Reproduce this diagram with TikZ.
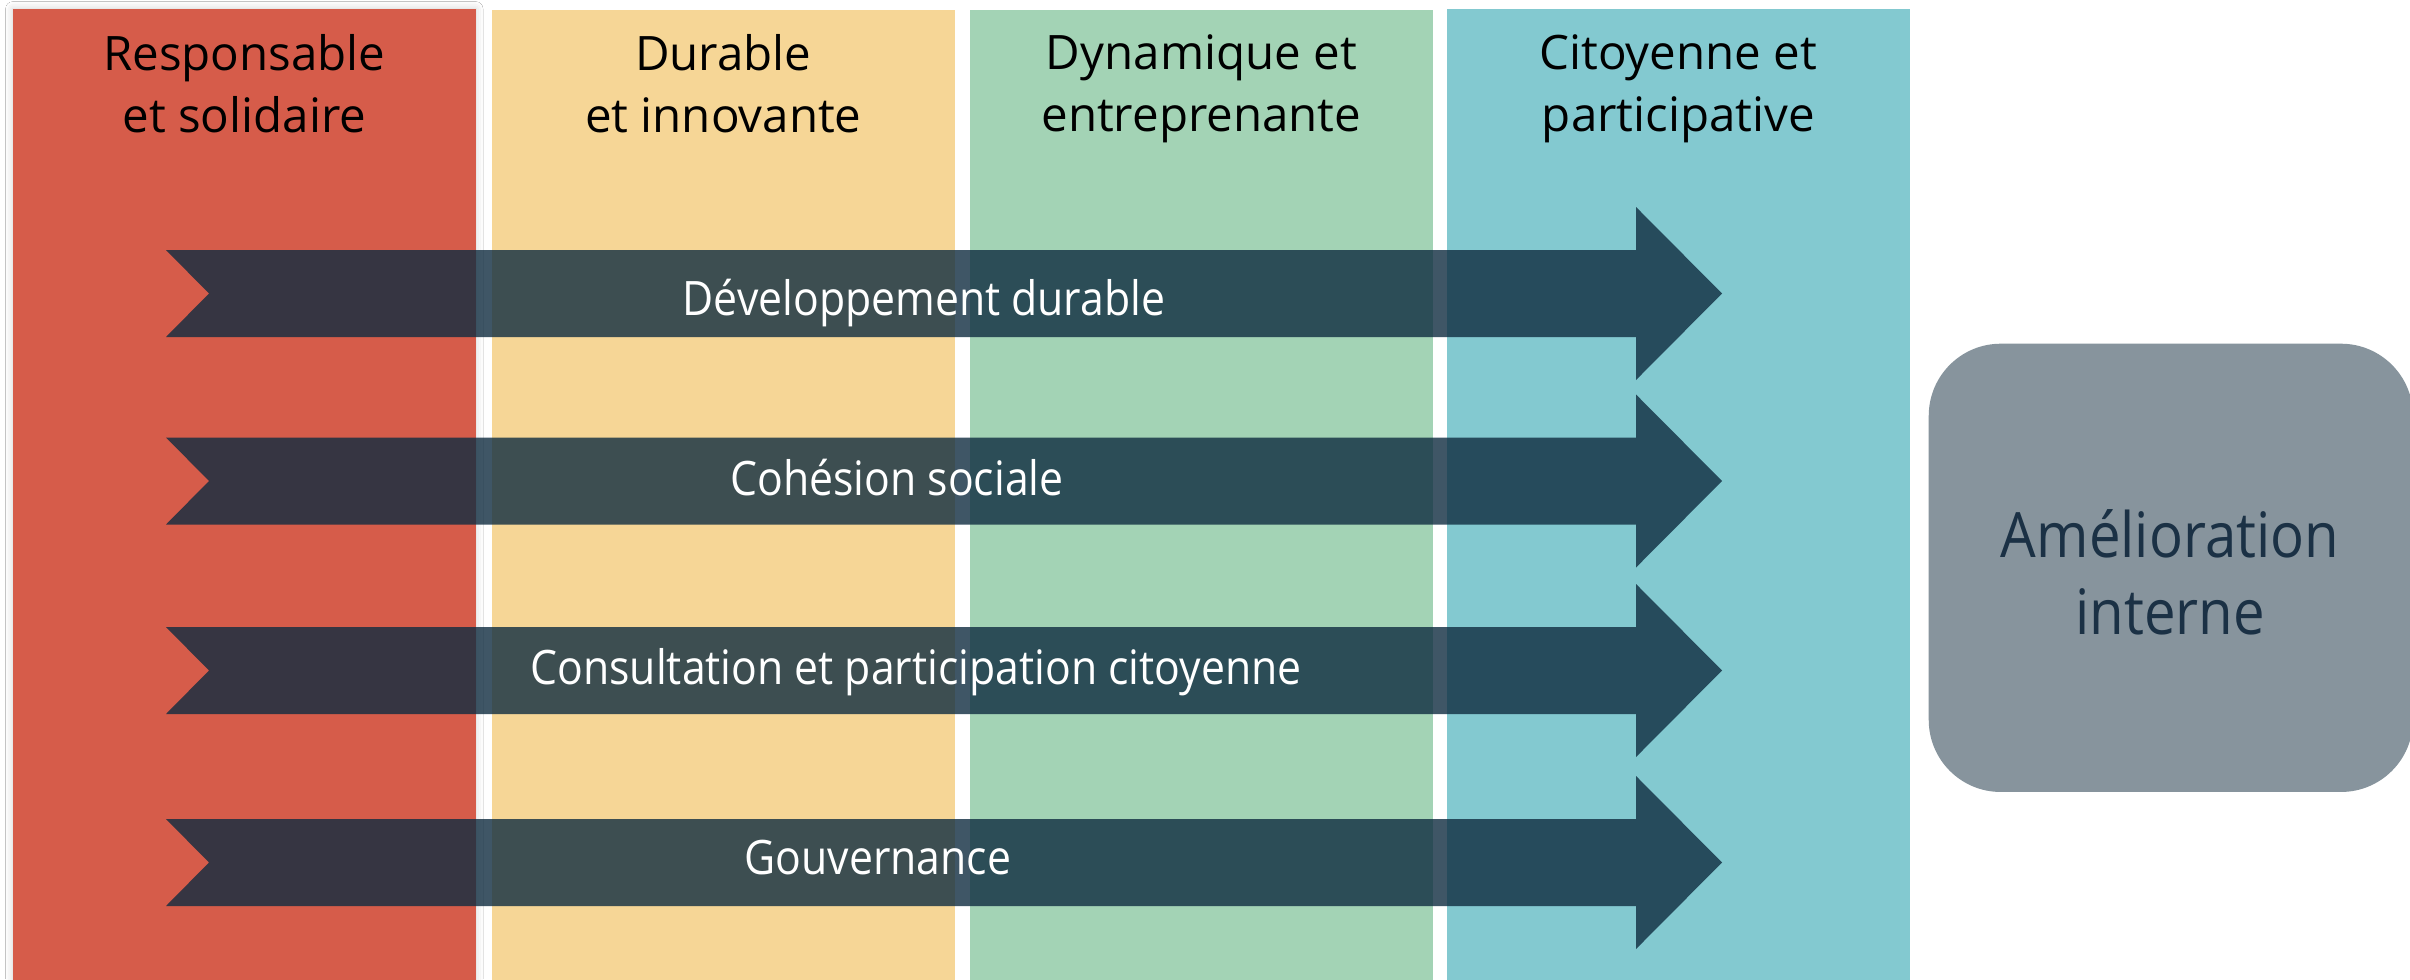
\documentclass[tikz,border=0pt]{standalone}
\usepackage{fontspec}
\setmainfont{Open Sans}
\newfontfamily\narrowfont{Open Sans}[FakeStretch=0.9]
\usetikzlibrary{shadows.blur}
\definecolor{colred}{HTML}{D65C4A}
\definecolor{colyellow}{HTML}{F6D696}
\definecolor{colgreen}{HTML}{A3D3B5}
\definecolor{colteal}{HTML}{83C9D0}
\definecolor{arrowc}{RGB}{15,44,64}
\definecolor{boxc}{HTML}{87949D}
\definecolor{boxtext}{HTML}{1B3145}
\begin{document}
\begin{tikzpicture}[x=0.01cm,y=-0.01cm,
  col/.style={draw=none, anchor=north west, inner sep=0pt, minimum width=4.63cm, minimum height=9.75cm},
  head/.style={anchor=north, align=center, inner sep=0pt, font=\fontsize{13.5}{17.6}\selectfont, text=black},
  band/.style={fill=arrowc, fill opacity=0.8, draw=none},
  bandtext/.style={text=white, inner sep=0pt, anchor=base, font=\narrowfont\fontsize{13.5}{16}\selectfont},
  goal/.style={fill=boxc, draw=none, rounded corners=0.72cm, anchor=north west, minimum width=4.84cm, minimum height=4.48cm, inner sep=0pt},
  goaltext/.style={align=center, text=boxtext, inner sep=0pt, font=\narrowfont\fontsize{17.8}{21.9}\selectfont}
]
\useasboundingbox (0,0) rectangle (2410,979);
\fill[white] (0,0) rectangle (2410,979);
% columns
\node[col, fill=colred, blur shadow={shadow xshift=0pt, shadow yshift=0pt, shadow blur radius=2pt, shadow opacity=18}] (c1) at (12,8) {};
\node[col, fill=colyellow] (c2) at (491,9) {};
\node[col, fill=colgreen] (c3) at (969,9) {};
\node[col, fill=colteal] (c4) at (1446,8) {};
% headers
\node[head] (h1) at (c1.north |- 0,34) {Responsable\\et solidaire};
\node[head] (h2) at (c2.north |- 0,34) {Durable\\et innovante};
\node[head] (h3) at (c3.north |- 0,34) {Dynamique et\\entreprenante};
\node[head] (h4) at (c4.north |- 0,34) {Citoyenne et\\participative};
% arrows
\foreach \c/\n in {293.5/a1, 481/a2, 670.5/a3, 862.5/a4}{
  \fill[band] (166,\c-43.5) -- (1636,\c-43.5) -- (1636,\c-86.5) -- (1722,\c)
    -- (1636,\c+86.5) -- (1636,\c+43.5) -- (166,\c+43.5) -- (209,\c) -- cycle;
  \coordinate (\n) at (0,\c);
}
\node[bandtext] (t1) at (924,315) {Développement durable};
\node[bandtext] (t2) at (897,495) {Cohésion sociale};
\node[bandtext] (t3) at (916,684) {Consultation et participation citoyenne};
\node[bandtext] (t4) at (878,874) {Gouvernance};
% goal box
\node[goal] (g) at (1928,343) {};
\node[goaltext] (gt) at (2170,572) {Amélioration\\interne};
\end{tikzpicture}
\end{document}
